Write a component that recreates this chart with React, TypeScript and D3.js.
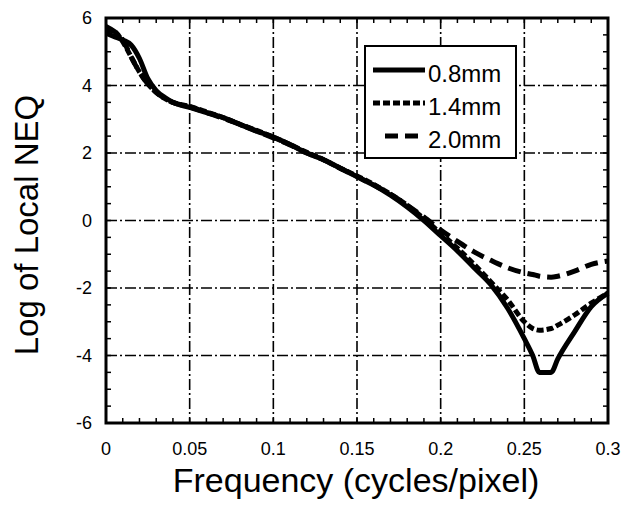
import React from 'react';
import * as d3 from 'd3';

const freq = [0, 0.005, 0.01, 0.015, 0.02, 0.025, 0.03, 0.035, 0.04, 0.05, 0.06, 0.07, 0.08, 0.09, 0.1, 0.11, 0.12, 0.13, 0.14, 0.15, 0.16, 0.17, 0.18, 0.19, 0.2, 0.21, 0.22, 0.23, 0.24, 0.25, 0.255, 0.259, 0.266, 0.27, 0.28, 0.29, 0.3];

const neq08 = [5.55, 5.45, 5.35, 5.2, 4.8, 4.2, 3.85, 3.65, 3.5, 3.35, 3.2, 3.05, 2.85, 2.65, 2.47, 2.25, 2.0, 1.8, 1.55, 1.3, 1.05, 0.75, 0.4, 0.0, -0.45, -0.9, -1.4, -1.9, -2.6, -3.5, -4.0, -4.5, -4.5, -4.1, -3.3, -2.55, -2.15];
const neq14 = [5.65, 5.6, 5.3, 4.85, 4.4, 4.05, 3.8, 3.62, 3.5, 3.38, 3.22, 3.05, 2.85, 2.67, 2.47, 2.25, 2.02, 1.8, 1.55, 1.32, 1.07, 0.78, 0.45, 0.05, -0.38, -0.82, -1.3, -1.82, -2.35, -3.0, -3.2, -3.25, -3.2, -3.1, -2.8, -2.45, -2.15];
const neq20 = [5.75, 5.6, 5.35, 4.85, 4.4, 4.05, 3.8, 3.62, 3.5, 3.37, 3.2, 3.03, 2.85, 2.65, 2.45, 2.24, 2.0, 1.8, 1.55, 1.3, 1.05, 0.78, 0.45, 0.1, -0.28, -0.62, -0.93, -1.18, -1.4, -1.55, -1.6, -1.65, -1.68, -1.65, -1.5, -1.3, -1.2];

const seriesNames = ['0.8mm', '1.4mm', '2.0mm'];
const xTicks = [0, 0.05, 0.1, 0.15, 0.2, 0.25, 0.3];
const yTicks = [-6, -4, -2, 0, 2, 4, 6];

const width = 633;
const height = 510;
const left = 106, right = 608, top = 18, bottom = 423;

const x = d3.scaleLinear([0, 0.3], [left, right]);
const y = d3.scaleLinear([-6, 6], [bottom, top]);

const font = "'Liberation Sans', Arial, sans-serif";
const dashes = [null, '7,3', '13,7'];
const widths = [5, 5, 5];

export default function App() {
  const all = [neq08, neq14, neq20];
  const line = d3.line<number>()
    .x((_, i) => x(freq[i]))
    .y(d => y(d))
    .curve(d3.curveMonotoneX);

  const xMinor = d3.range(0, 31).map(i => i / 100);
  const yMinor = d3.range(0, 25).map(i => -6 + i * 0.5);

  return (
    <svg width={width} height={height} style={{ position: 'absolute', left: 0, top: 0, background: '#fff' }}>
      {/* grid */}
      <g stroke="#000" strokeWidth={1.6} strokeDasharray="11,3,2,3">
        {xTicks.slice(1, -1).map(t => (
          <line key={'gx' + t} x1={x(t)} x2={x(t)} y1={top} y2={bottom} />
        ))}
        {yTicks.slice(1, -1).map(t => (
          <line key={'gy' + t} x1={left} x2={right} y1={y(t)} y2={y(t)} />
        ))}
      </g>

      {/* minor ticks */}
      <g stroke="#000" strokeWidth={1.5}>
        {xMinor.map(t => (
          <g key={'mx' + t}>
            <line x1={x(t)} x2={x(t)} y1={bottom} y2={bottom - 5} />
            <line x1={x(t)} x2={x(t)} y1={top} y2={top + 5} />
          </g>
        ))}
        {yMinor.map(t => (
          <g key={'my' + t}>
            <line x1={left} x2={left + 5} y1={y(t)} y2={y(t)} />
            <line x1={right} x2={right - 5} y1={y(t)} y2={y(t)} />
          </g>
        ))}
      </g>

      {/* curves */}
      {all.map((vals, k) => (
        <path key={seriesNames[k]} d={line(vals) ?? ''} fill="none" stroke="#000"
          strokeWidth={widths[k]} strokeDasharray={dashes[k] ?? undefined} strokeLinejoin="round" />
      ))}

      {/* frame */}
      <rect x={left} y={top} width={right - left} height={bottom - top} fill="none" stroke="#000" strokeWidth={3} />

      {/* tick labels */}
      <g fontFamily={font} fontSize={18} fill="#000">
        {xTicks.map(t => (
          <text key={'tx' + t} x={x(t)} y={455} textAnchor="middle">{String(t)}</text>
        ))}
        {yTicks.map(t => (
          <text key={'ty' + t} x={92} y={y(t) + 6} textAnchor="end">{String(t)}</text>
        ))}
      </g>

      {/* axis titles */}
      <text x={356} y={492} textAnchor="middle" fontFamily={font} fontSize={34}>Frequency (cycles/pixel)</text>
      <text transform="translate(38,225) rotate(-90)" textAnchor="middle" fontFamily={font} fontSize={33}>Log of Local NEQ</text>

      {/* legend */}
      <rect x={365} y={46} width={151} height={112} fill="#fff" stroke="#000" strokeWidth={2} />
      {seriesNames.map((name, k) => {
        const ly = 70 + k * 33;
        return (
          <g key={'lg' + name}>
            <line x1={k === 2 ? 385 : 373} x2={425} y1={ly} y2={ly} stroke="#000"
              strokeWidth={widths[k]} strokeDasharray={dashes[k] ?? undefined} />
            <text x={428} y={ly + 12} fontFamily={font} fontSize={24}>{name}</text>
          </g>
        );
      })}
    </svg>
  );
}
